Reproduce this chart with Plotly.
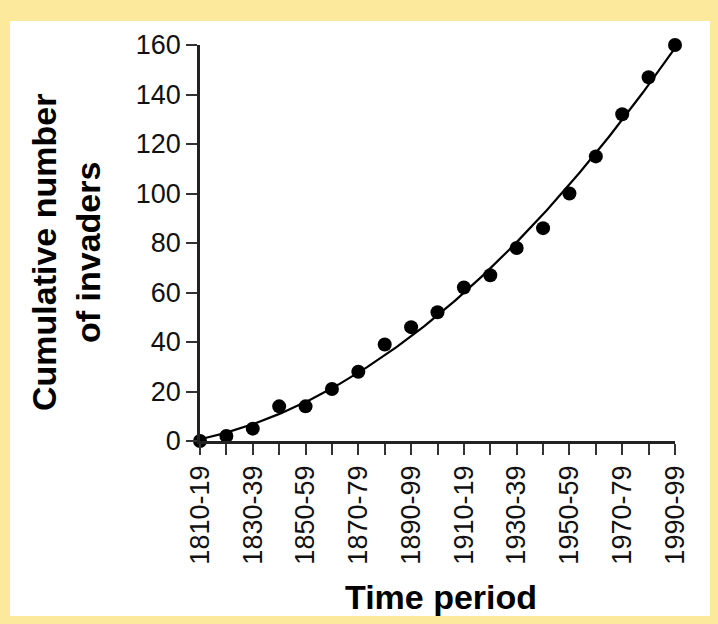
import numpy as np
import plotly.graph_objects as go

periods = ["1810-19", "1820-29", "1830-39", "1840-49", "1850-59", "1860-69",
           "1870-79", "1880-89", "1890-99", "1900-09", "1910-19", "1920-29",
           "1930-39", "1940-49", "1950-59", "1960-69", "1970-79", "1980-89",
           "1990-99"]
cumulative_invaders = [0, 2, 5, 14, 14, 21, 28, 39, 46, 52, 62, 67, 78, 86,
                       100, 115, 132, 147, 160]
y_ticks = [0, 20, 40, 60, 80, 100, 120, 140, 160]

idx = np.arange(len(periods))
coef = np.polyfit(idx, cumulative_invaders, 2)
xfit = np.linspace(0, len(periods) - 1, 200)
yfit = np.polyval(coef, xfit)

tick_text = [p if i % 2 == 0 else "" for i, p in enumerate(periods)]

FONT = "Liberation Sans, Arial, Helvetica, sans-serif"
YELLOW = "rgb(253,233,155)"

fig = go.Figure()
fig.add_trace(go.Scatter(x=xfit, y=yfit, mode="lines",
                         line=dict(color="black", width=2.2),
                         hoverinfo="skip", cliponaxis=False))
fig.add_trace(go.Scatter(x=idx, y=cumulative_invaders, mode="markers",
                         marker=dict(color="black", size=14),
                         text=periods, cliponaxis=False))

L, R, T, B = 200, 43, 45, 183
W, H = 718, 624
pw, ph = W - L - R, H - T - B


def px_x(p):
    return (p - L) / pw


def px_y(p):
    return (H - B - p) / ph


fig.add_shape(type="rect", xref="paper", yref="paper",
              x0=px_x(10), x1=px_x(710), y0=px_y(616), y1=px_y(21),
              fillcolor="white", line=dict(width=0), layer="below")

fig.add_annotation(text="Cumulative number<br>of invaders", textangle=-90,
                   xref="paper", yref="paper", x=px_x(66), y=px_y(253),
                   xanchor="center", yanchor="middle", showarrow=False,
                   font=dict(family=FONT, size=34, color="black", weight="bold"))
fig.add_annotation(text="Time period", xref="paper", yref="paper",
                   x=px_x(441), y=px_y(597), xanchor="center", yanchor="middle",
                   showarrow=False,
                   font=dict(family=FONT, size=34, color="black", weight="bold"))

fig.update_layout(
    width=W, height=H,
    margin=dict(l=L, r=R, t=T, b=B, pad=0),
    paper_bgcolor=YELLOW, plot_bgcolor="white",
    showlegend=False,
    font=dict(family=FONT, color="black"),
    xaxis=dict(range=[0, len(periods) - 1], tickmode="array",
               tickvals=list(idx), ticktext=tick_text, tickangle=-90,
               ticks="outside", ticklen=11, tickwidth=2, tickcolor="#333",
               showline=True, linecolor="#222", linewidth=2.5,
               showgrid=False, zeroline=False,
               tickfont=dict(family=FONT, size=27, color="#111")),
    yaxis=dict(range=[0, 160], tickmode="array", tickvals=y_ticks,
               ticks="outside", ticklen=11, tickwidth=2, tickcolor="#333",
               showline=True, linecolor="#222", linewidth=2.5,
               showgrid=False, zeroline=False,
               tickfont=dict(family=FONT, size=27, color="#111")),
)

fig.write_html("out.html",
               config={"displayModeBar": False},
               post_script="document.body.style.margin='0px';"
                           "document.body.style.padding='0px';"
                           "document.body.style.overflow='hidden';")
